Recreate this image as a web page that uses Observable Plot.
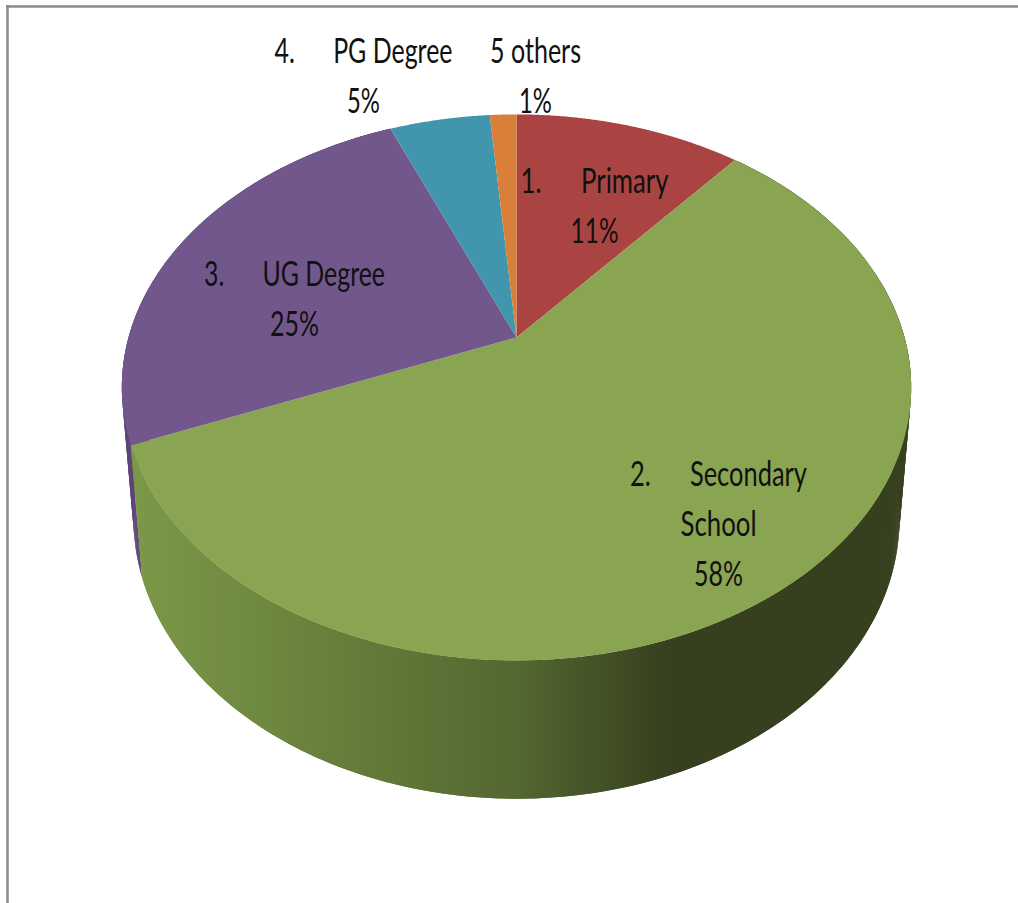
<!DOCTYPE html>
<html>
<head>
<meta charset="utf-8">
<style>html,body{margin:0;padding:0;background:#fff}</style>
<script src="https://cdn.jsdelivr.net/npm/d3@7"></script>
<script src="https://cdn.jsdelivr.net/npm/@observablehq/plot@0.6"></script>
</head>
<body>
<script>
// Data
const gap = "\u00a0".repeat(6);
const categories = ["1." + gap + "Primary", "2." + gap + "Secondary\nSchool", "3." + gap + "UG Degree", "4." + gap + "PG Degree", "5 others"];
const shares = [11.1, 57.7, 25.0, 4.9, 1.3];
const faceColors = ["#a94442", "#8aa551", "#71578b", "#4195ad", "#d97f3a"];

// Layout
const labelX = [594, 718, 294, 363, 535];
const labelBaseline = [192, 485, 285, 62, 62];
const labelWidths = [[148, 48], [177, 76, 49], [181, 49], [178, 33], [91, 33]];
const lineGap = 50;
const topDisc = {apexX: 516, apexY: 337, A: 263.9, B: 388, k: 0.183};
const baseDisc = {apexX: 516, apexY: 467, A: 270.6, B: 376.5, k: 0.183};

const rad = d => d * Math.PI / 180;
const project = (disc, deg) => {
  const u = Math.sin(rad(deg)), v = Math.cos(rad(deg)), w = 1 + disc.k * v;
  return {px: disc.apexX + disc.B * u / w, py: disc.apexY - disc.A * v / w};
};
const arc = (disc, a, b) => {
  const n = Math.max(2, Math.ceil(Math.abs(b - a) * 4));
  return d3.range(n + 1).map(i => project(disc, a + (b - a) * i / n));
};

let cum = 0;
const slices = shares.map((s, i) => {
  const a0 = cum * 3.6; cum += s; const a1 = cum * 3.6;
  return {i, a0, a1, face: [{px: topDisc.apexX, py: topDisc.apexY}, ...arc(topDisc, a0, a1)]};
});

// The side wall is a run of overlapping quads between the two rims, so that its
// silhouette follows the line joining the rims where they cross.
const wall = (a, b) => {
  const n = Math.ceil((b - a) * 2);
  return d3.range(n).flatMap(i => {
    const s = a + (b - a) * i / n, e = Math.min(b, s + 1);
    return [project(topDisc, s), project(topDisc, e), project(baseDisc, e), project(baseDisc, s)]
      .map(p => ({...p, quad: i}));
  });
};
const xy = {x: "px", y: "py", stroke: "none"};

const labelRows = categories.flatMap((c, i) =>
  (c + "\n" + Math.round(shares[i]) + "%").split("\n").map((t, j) => ({
    t, x: labelX[i], y: labelBaseline[i] + j * lineGap, w: labelWidths[i][j]
  })));

const chart = Plot.plot({
  width: 1018, height: 903,
  margin: 0,
  x: {domain: [0, 1018], range: [0, 1018], axis: null},
  y: {domain: [0, 903], range: [0, 903], axis: null},
  marks: [
    () => {
      const ns = "http://www.w3.org/2000/svg";
      const defs = document.createElementNS(ns, "defs");
      const g = document.createElementNS(ns, "linearGradient");
      g.setAttribute("id", "sideGreen");
      g.setAttribute("gradientUnits", "userSpaceOnUse");
      g.setAttribute("x1", 135); g.setAttribute("x2", 900);
      g.setAttribute("y1", 0); g.setAttribute("y2", 0);
      [[0, "#7b9848"], [0.2, "#6b853f"], [0.5, "#536730"], [0.7, "#363f1e"], [1, "#363f1e"]].forEach(([o, c]) => {
        const s = document.createElementNS(ns, "stop");
        s.setAttribute("offset", o); s.setAttribute("stop-color", c);
        g.appendChild(s);
      });
      defs.appendChild(g);
      return defs;
    },
    Plot.ruleX([7], {y1: 5, y2: 903, stroke: "#8a8a8a", strokeWidth: 2.5}),
    Plot.ruleY([6], {x1: 6, x2: 1018, stroke: "#8a8a8a", strokeWidth: 2.5}),
    Plot.line(wall(slices[2].a0, slices[2].a1), {...xy, z: "quad", fill: "#5e4579"}),
    Plot.line(wall(slices[1].a0, slices[1].a1), {...xy, z: "quad", fill: "url(#sideGreen)"}),
    ...slices.map(s => Plot.line(s.face, {...xy, fill: faceColors[s.i]})),
    Plot.text(labelRows, {
      x: "x", y: "y", text: "t",
      lineAnchor: "bottom",
      fontFamily: "Lato, 'Open Sans', sans-serif",
      fontSize: 34, fill: "#111"
    })
  ]
});
d3.select(chart).selectAll("g[aria-label='text'] text").each(function (_, i) {
  this.setAttribute("textLength", labelRows[i].w);
  this.setAttribute("lengthAdjust", "spacingAndGlyphs");
});
document.body.appendChild(chart);
</script>
</body>
</html>
